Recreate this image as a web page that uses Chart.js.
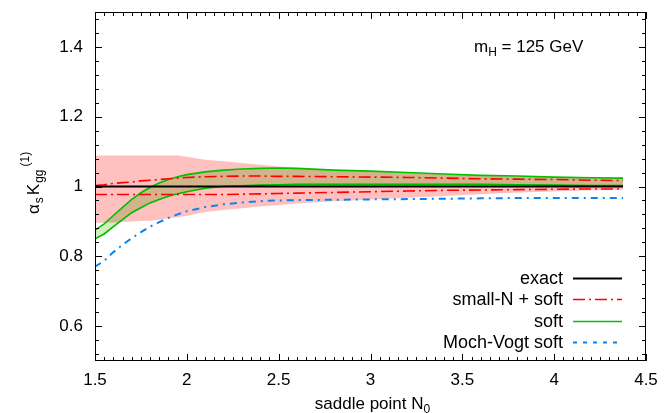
<!DOCTYPE html>
<html>
<head>
<meta charset="utf-8">
<script src="https://cdn.jsdelivr.net/npm/chart.js@4.4.1/dist/chart.umd.min.js"></script>
<style>
  body { margin: 0; background: #fff; }
  #wrap { width: 664px; height: 413px; }
</style>
</head>
<body>
<div id="wrap"><canvas id="chart" width="664" height="413"></canvas></div>
<script>
// Data
const saddleN   = [1.5, 1.55, 1.6, 1.65, 1.7, 1.75, 1.8, 1.85, 1.9, 1.95, 2.0, 2.1, 2.2, 2.3, 2.4, 2.5, 2.6, 2.8, 3.0, 3.2, 3.4, 3.6, 3.8, 4.0, 4.2, 4.375];
const exact     = [1, 1, 1, 1, 1, 1, 1, 1, 1, 1, 1, 1, 1, 1, 1, 1, 1, 1, 1, 1, 1, 1, 1, 1, 1, 1];
const smallNUp  = [1.003, 1.005, 1.009, 1.011, 1.013, 1.016, 1.018, 1.020, 1.022, 1.024, 1.026, 1.028, 1.029, 1.030, 1.030, 1.029, 1.029, 1.028, 1.027, 1.026, 1.024, 1.022, 1.021, 1.020, 1.018, 1.017];
const smallNLo  = [0.977, 0.977, 0.977, 0.977, 0.977, 0.977, 0.977, 0.977, 0.977, 0.977, 0.977, 0.977, 0.977, 0.978, 0.979, 0.980, 0.981, 0.983, 0.985, 0.987, 0.989, 0.990, 0.991, 0.992, 0.993, 0.993];
const bandUp    = [1.089, 1.089, 1.089, 1.089, 1.089, 1.089, 1.089, 1.089, 1.089, 1.089, 1.085, 1.077, 1.072, 1.067, 1.062, 1.057, 1.053, 1.046, 1.043, 1.039, 1.035, 1.031, 1.029, 1.026, 1.024, 1.023];
const bandLo    = [0.896, 0.896, 0.897, 0.898, 0.900, 0.901, 0.902, 0.905, 0.909, 0.912, 0.916, 0.927, 0.933, 0.938, 0.943, 0.947, 0.951, 0.958, 0.963, 0.968, 0.973, 0.978, 0.983, 0.986, 0.989, 0.991];
const softUp    = [0.875, 0.893, 0.917, 0.940, 0.963, 0.982, 0.998, 1.010, 1.020, 1.028, 1.034, 1.042, 1.047, 1.050, 1.052, 1.053, 1.052, 1.047, 1.044, 1.040, 1.036, 1.032, 1.030, 1.027, 1.025, 1.024];
const softLo    = [0.850, 0.864, 0.885, 0.905, 0.925, 0.939, 0.953, 0.963, 0.972, 0.979, 0.985, 0.995, 1.000, 1.002, 1.004, 1.005, 1.006, 1.006, 1.006, 1.006, 1.006, 1.006, 1.005, 1.004, 1.003, 1.003];
const mochVogt  = [0.770, 0.787, 0.812, 0.833, 0.852, 0.869, 0.885, 0.898, 0.910, 0.920, 0.929, 0.941, 0.949, 0.954, 0.958, 0.960, 0.961, 0.962, 0.963, 0.964, 0.965, 0.966, 0.967, 0.967, 0.967, 0.967];

const xTicks = [1.5, 2, 2.5, 3, 3.5, 4, 4.5];
const yTicks = [0.6, 0.8, 1, 1.2, 1.4];
const legendLabels = ['exact', 'small-N + soft', 'soft', 'Moch-Vogt soft'];

const FONT = "'Liberation Sans', Arial, Helvetica, sans-serif";
const RED = '#ff0000', GREEN = '#00c000', BLUE = '#0a84f0';

const pts = ys => saddleN.map((x, i) => ({ x: x, y: ys[i] }));

function line(data, color, width, dash, order) {
    return {
        data: pts(data), borderColor: color, borderWidth: width, borderDash: dash,
        pointRadius: 0, fill: false, tension: 0, order: order
    };
}

const datasets = [
    line(exact, '#000000', 2, [], 0),                   // 0
    line(smallNUp, RED, 1.6, [12, 4, 2, 4], 1),         // 1
    line(smallNLo, RED, 1.6, [12, 4, 2, 4], 1),         // 2
    line(mochVogt, BLUE, 2, [7, 5, 2, 5], 1),           // 3
    // soft band, filled with multiply so it goes tan over the pink
    Object.assign(line(softUp, GREEN, 1.6, [], 2), { fill: '+1', backgroundColor: 'rgb(210,238,186)' }), // 4
    line(softLo, GREEN, 1.6, [], 2),                    // 5
    // small-N + soft uncertainty band
    Object.assign(line(bandUp, 'rgba(0,0,0,0)', 0, [], 3), { fill: '+1', backgroundColor: 'rgb(255,192,192)' }), // 6
    line(bandLo, 'rgba(0,0,0,0)', 0, [], 3)             // 7
];

const legendStyle = [
    { color: '#000000', width: 2, dash: [] },
    { color: RED, width: 1.5, dash: [12, 4, 2, 4] },
    { color: GREEN, width: 1.5, dash: [] },
    { color: BLUE, width: 2, dash: [4, 6] }
];

function drawRich(ctx, parts, x, y) {
    // parts: [text, size, dy, gap]
    let cx = x;
    parts.forEach(p => {
        ctx.font = p[1] + 'px ' + FONT;
        ctx.fillText(p[0], cx, y + p[2]);
        cx += ctx.measureText(p[0]).width + (p[3] || 0);
    });
    return cx;
}

function richWidth(ctx, parts) {
    let w = 0;
    parts.forEach(p => { ctx.font = p[1] + 'px ' + FONT; w += ctx.measureText(p[0]).width + (p[3] || 0); });
    return w;
}

const decor = {
    id: 'decor',
    afterDatasetDraw(chart, args) {
        if (args.index === 5) chart.ctx.globalCompositeOperation = 'multiply';
    },
    beforeDatasetDraw(chart, args) {
        if (args.index === 4) chart.ctx.globalCompositeOperation = 'source-over';
    },
    afterDraw(chart) {
        const ctx = chart.ctx;
        const a = chart.chartArea;
        const xs = chart.scales.x, ys = chart.scales.y;
        ctx.save();
        ctx.globalCompositeOperation = 'source-over';
        ctx.strokeStyle = '#000';
        ctx.lineWidth = 1;
        ctx.setLineDash([]);

        // frame
        ctx.strokeRect(Math.round(a.left) + 0.5, Math.round(a.top) + 0.5, Math.round(a.right - a.left) - 1, Math.round(a.bottom - a.top) - 1);

        // inward ticks on all four sides
        ctx.beginPath();
        for (let k = 30; k <= 90; k++) {
            const v = k / 20;
            const major = k % 10 === 0;
            const len = major ? 7 : 4;
            const px = Math.round(xs.getPixelForValue(v)) + 0.5;
            ctx.moveTo(px, a.bottom); ctx.lineTo(px, a.bottom - len);
            ctx.moveTo(px, a.top); ctx.lineTo(px, a.top + len);
        }
        for (let k = 13; k <= 37; k++) {
            const v = k / 25;
            const major = k % 5 === 0;
            const len = major ? 7 : 4;
            const py = Math.round(ys.getPixelForValue(v)) + 0.5;
            ctx.moveTo(a.left, py); ctx.lineTo(a.left + len, py);
            ctx.moveTo(a.right, py); ctx.lineTo(a.right - len, py);
        }
        ctx.stroke();

        ctx.fillStyle = '#000';
        ctx.textBaseline = 'alphabetic';
        ctx.textAlign = 'left';

        // x title
        const xt = [['saddle point N', 17, 0], ['0', 12, 4]];
        drawRich(ctx, xt, (a.left + a.right) / 2 - richWidth(ctx, xt) / 2 + 2, 409);

        // y title, rotated
        ctx.save();
        ctx.translate(39, 214);
        ctx.rotate(-Math.PI / 2);
        drawRich(ctx, [['\u03b1', 17, 0, 1], ['s', 12, 4, 2], ['K', 17, 0, 1], ['gg', 12, 4, 3], ['(1)', 12, -10]], 0, 0);
        ctx.restore();

        // annotation
        drawRich(ctx, [['m', 17, 0], ['H', 12, 4], [' = 125 GeV', 17, 0]], 474, 52);

        // legend
        legendLabels.forEach((lab, i) => {
            const cy = 278 + i * 21.3;
            ctx.font = '18px ' + FONT;
            ctx.fillStyle = '#000';
            ctx.textAlign = 'right';
            ctx.fillText(lab, 563, cy + 6);
            const st = legendStyle[i];
            ctx.beginPath();
            ctx.strokeStyle = st.color;
            ctx.lineWidth = st.width;
            ctx.setLineDash(st.dash);
            ctx.moveTo(573, Math.round(cy) + 0.5);
            ctx.lineTo(622, Math.round(cy) + 0.5);
            ctx.stroke();
        });
        ctx.restore();
    }
};

const noPad = s => { s.paddingTop = 0; s.paddingBottom = 0; s.paddingLeft = 0; s.paddingRight = 0; };

new Chart(document.getElementById('chart'), {
    type: 'line',
    data: { datasets: datasets },
    options: {
        responsive: false,
        animation: false,
        layout: { padding: { left: 0, right: 18, top: 12, bottom: 0 } },
        plugins: { legend: { display: false }, tooltip: { enabled: false } },
        scales: {
            x: {
                type: 'linear', min: 1.5, max: 4.5,
                afterBuildTicks: s => { s.ticks = xTicks.map(v => ({ value: v })); },
                afterFit: s => { s.height = 52; noPad(s); },
                grid: { display: false, drawTicks: false },
                border: { display: false },
                ticks: { color: '#000', padding: 9, maxRotation: 0, font: { family: FONT, size: 17 }, callback: v => String(v) }
            },
            y: {
                type: 'linear', min: 0.5, max: 1.5,
                afterBuildTicks: s => { s.ticks = yTicks.map(v => ({ value: v })); },
                afterFit: s => { s.width = 95; noPad(s); },
                grid: { display: false, drawTicks: false },
                border: { display: false },
                ticks: { color: '#000', padding: 12, font: { family: FONT, size: 17 }, callback: v => String(Math.round(v * 10) / 10) }
            }
        }
    },
    plugins: [decor]
});
</script>
</body>
</html>
